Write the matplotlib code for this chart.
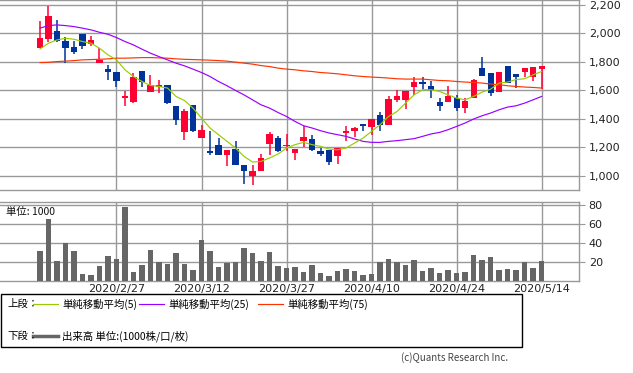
import matplotlib
matplotlib.use("Agg")
import matplotlib.pyplot as plt
from matplotlib.lines import Line2D
from matplotlib.patches import Rectangle
from matplotlib.ticker import FuncFormatter

# trading days shown (2020)
dates = ["2/13", "2/14", "2/17", "2/18", "2/19", "2/20", "2/21", "2/25", "2/26", "2/27",
         "2/28", "3/2", "3/3", "3/4", "3/5", "3/6", "3/9", "3/10", "3/11", "3/12",
         "3/13", "3/16", "3/17", "3/18", "3/19", "3/23", "3/24", "3/25", "3/26", "3/27",
         "3/30", "3/31", "4/1", "4/2", "4/3", "4/6", "4/7", "4/8", "4/9", "4/10",
         "4/13", "4/14", "4/15", "4/16", "4/17", "4/20", "4/21", "4/22", "4/23", "4/24",
         "4/27", "4/28", "4/30", "5/1", "5/7", "5/8", "5/11", "5/12", "5/13", "5/14"]
tick_dates = ["2/27", "3/12", "3/27", "4/10", "4/24", "5/14"]

opens = [1900, 1961, 2018, 1947, 1903, 1999, 1926, 1795, 1751, 1728,
         1543, 1519, 1737, 1585, 1622, 1639, 1491, 1307, 1498, 1262,
         1173, 1218, 1142, 1189, 1077, 995, 1035, 1222, 1265, 1206,
         1159, 1241, 1260, 1175, 1178, 1135, 1297, 1311, 1365, 1339,
         1428, 1353, 1533, 1533, 1620, 1658, 1627, 1517, 1517, 1545,
         1479, 1545, 1756, 1725, 1585, 1772, 1716, 1728, 1697, 1751]
highs = [2088, 2195, 2095, 1973, 1947, 1999, 1985, 1896, 1779, 1728,
         1597, 1721, 1737, 1709, 1674, 1639, 1491, 1470, 1498, 1358,
         1311, 1265, 1182, 1246, 1077, 1077, 1154, 1307, 1279, 1295,
         1189, 1346, 1288, 1194, 1178, 1194, 1346, 1340, 1365, 1398,
         1447, 1557, 1599, 1592, 1693, 1693, 1662, 1545, 1632, 1568,
         1545, 1681, 1837, 1725, 1728, 1772, 1716, 1756, 1763, 1772]
lows = [1895, 1943, 1943, 1795, 1856, 1891, 1915, 1795, 1669, 1620,
        1493, 1514, 1620, 1585, 1580, 1507, 1353, 1248, 1309, 1262,
        1142, 1147, 1065, 1072, 942, 932, 1035, 1142, 1168, 1171,
        1107, 1201, 1171, 1135, 1077, 1084, 1241, 1269, 1311, 1288,
        1311, 1353, 1517, 1470, 1564, 1611, 1545, 1451, 1517, 1451,
        1440, 1545, 1704, 1557, 1585, 1651, 1615, 1693, 1662, 1611]
closes = [1970, 2123, 1947, 1900, 1872, 1915, 1954, 1814, 1728, 1662,
          1561, 1695, 1655, 1634, 1639, 1514, 1388, 1456, 1316, 1323,
          1157, 1147, 1182, 1072, 1030, 1030, 1124, 1293, 1175, 1218,
          1189, 1269, 1178, 1154, 1093, 1194, 1311, 1335, 1346, 1398,
          1353, 1540, 1561, 1592, 1658, 1644, 1604, 1493, 1557, 1479,
          1526, 1674, 1704, 1580, 1728, 1651, 1697, 1756, 1763, 1772]

ma5 = [1891, 1931, 1954, 1966, 1959, 1943, 1931, 1896, 1849, 1814,
       1744, 1697, 1662, 1634, 1627, 1616, 1557, 1528, 1475, 1405,
       1335, 1288, 1241, 1194, 1135, 1096, 1100, 1124, 1152, 1194,
       1218, 1234, 1218, 1206, 1187, 1182, 1194, 1229, 1264, 1311,
       1358, 1416, 1451, 1510, 1568, 1604, 1604, 1592, 1568, 1545,
       1533, 1557, 1587, 1608, 1651, 1658, 1676, 1681, 1709, 1732]
ma25 = [2037, 2055, 2060, 2055, 2048, 2037, 2025, 2008, 1994, 1971,
        1943, 1919, 1889, 1861, 1837, 1814, 1791, 1772, 1749, 1725,
        1697, 1662, 1632, 1599, 1568, 1533, 1498, 1475, 1444, 1416,
        1381, 1351, 1335, 1316, 1300, 1288, 1276, 1258, 1241, 1234,
        1234, 1241, 1246, 1253, 1260, 1276, 1293, 1304, 1323, 1346,
        1370, 1398, 1421, 1440, 1463, 1482, 1491, 1510, 1533, 1557]
ma75 = [1795, 1797, 1802, 1805, 1809, 1814, 1816, 1818, 1821, 1826,
        1826, 1828, 1830, 1830, 1828, 1826, 1821, 1818, 1816, 1814,
        1812, 1809, 1805, 1798, 1791, 1784, 1774, 1767, 1756, 1749,
        1744, 1737, 1732, 1725, 1721, 1716, 1709, 1702, 1697, 1693,
        1690, 1686, 1681, 1679, 1679, 1679, 1674, 1669, 1667, 1662,
        1658, 1655, 1651, 1644, 1639, 1632, 1627, 1623, 1620, 1616]

# volume in 1000 shares
volume = [31.6, 65.3, 21, 40, 31.6, 7.4, 6.3, 15.8, 26.3, 23.2,
          77.9, 9.5, 16.8, 32.6, 20, 17.9, 29.5, 17.9, 11.6, 43.2,
          31.6, 14.7, 18.9, 20, 34.7, 29.5, 21, 30.5, 15.8, 13.7,
          14.7, 9.5, 16.8, 8.4, 5.3, 10.5, 12.6, 10.5, 6.3, 7.4,
          20, 23.2, 20, 16.8, 22.1, 10.5, 13.7, 8.4, 11.6, 8.4,
          9.5, 27.4, 22.1, 25.3, 11.6, 12.6, 11.6, 20, 13.7, 21]

UP = "#ff0033"
DOWN = "#003399"
GRID = "#999999"
JP = ["Noto Sans CJK JP", "DejaVu Sans"]

W, H = 633, 373
fig = plt.figure(figsize=(W / 100, H / 100), dpi=100)
fig.patch.set_facecolor("white")

ax = fig.add_axes([0, 1 - 190 / H, 579 / W, 190 / H])
axv = fig.add_axes([0, 1 - 281 / H, 579 / W, 79.3 / H])

xs = list(range(len(dates)))
ticks = [dates.index(d) for d in tick_dates]

###candles
for i in xs:
    o, h, l, c = opens[i], highs[i], lows[i], closes[i]
    col = UP if c >= o else DOWN
    ax.vlines(i, l, h, color=col, linewidth=1.1, zorder=3)
    body = max(abs(c - o), 6)
    ax.bar(i, body, bottom=min(o, c), width=0.72, color=col, linewidth=0, zorder=4)

###moving averages
ax.plot(xs, ma75, color="#ff3300", linewidth=0.85, zorder=5)
ax.plot(xs, ma25, color="#9900ff", linewidth=0.85, zorder=5)
ax.plot(xs, ma5, color="#99cc00", linewidth=0.85, zorder=5)

xlim = (-4.7, 63.4)
ax.set_xlim(*xlim)
ax.set_ylim(899, 2235)
ax.set_xticks(ticks)
ax.set_xticklabels([])
ax.set_yticks([1000, 1200, 1400, 1600, 1800, 2000, 2200])
ax.yaxis.set_major_formatter(FuncFormatter(lambda v, p: f"{v:,.0f}"))
ax.yaxis.tick_right()
ax.tick_params(axis="x", length=0)
ax.tick_params(axis="y", length=4, color=GRID, labelsize=8, labelcolor="#222222", pad=3)
ax.grid(color=GRID, linewidth=1.0)
ax.set_axisbelow(True)

###volume
axv.bar(xs, volume, width=0.68, color="#666666", linewidth=0, zorder=3)
axv.set_xlim(*xlim)
axv.set_ylim(0, 83.5)
axv.set_xticks(ticks)
axv.set_xticklabels(["2020/" + d for d in tick_dates])
axv.set_yticks([20, 40, 60, 80])
axv.yaxis.tick_right()
axv.tick_params(axis="x", length=0, labelsize=8, labelcolor="#222222", pad=2)
axv.tick_params(axis="y", length=4, color=GRID, labelsize=8, labelcolor="#222222", pad=3)
axv.grid(color=GRID, linewidth=1.0)
axv.set_axisbelow(True)
axv.text(0.01, 0.93, "単位: 1000", transform=axv.transAxes, fontsize=7.5,
         family=JP, va="top", ha="left", color="#111111")

for a in (ax, axv):
    a.spines["left"].set_visible(False)
    for s in ("top", "right", "bottom"):
        a.spines[s].set_color(GRID)
        a.spines[s].set_linewidth(1.0)


# legend box drawn in pixel coordinates
def fx(x):
    return x / W


def fy(y):
    return 1 - y / H


fig.add_artist(Rectangle((fx(0.5), fy(346.5)), fx(521.5), (346.5 - 294) / H,
                         transform=fig.transFigure, fill=False, edgecolor="black", linewidth=1.0))

row1, row2 = 304, 336
fig.text(fx(7), fy(row1), "上段：", fontsize=7.5, family=JP, va="center")
legend_items = [(33, "#99cc00", "単純移動平均(5)"),
                (139, "#9900ff", "単純移動平均(25)"),
                (258, "#ff3300", "単純移動平均(75)")]
for x0, col, lab in legend_items:
    fig.add_artist(Line2D([fx(x0), fx(x0 + 25)], [fy(row1), fy(row1)],
                          transform=fig.transFigure, color=col, linewidth=0.85))
    fig.text(fx(x0 + 29), fy(row1), lab, fontsize=7.5, family=JP, va="center")

fig.text(fx(7), fy(row2), "下段：", fontsize=7.5, family=JP, va="center")
fig.add_artist(Line2D([fx(33), fx(58)], [fy(row2), fy(row2)],
                      transform=fig.transFigure, color="#666666", linewidth=2.5))
fig.text(fx(62), fy(row2), "出来高 単位:(1000株/口/枚)", fontsize=7.5, family=JP, va="center")

fig.text(fx(508), fy(358), "(c)Quants Research Inc.", fontsize=7, family=JP,
         ha="right", va="center", color="#444444")

plt.savefig("out.png", dpi=100)
